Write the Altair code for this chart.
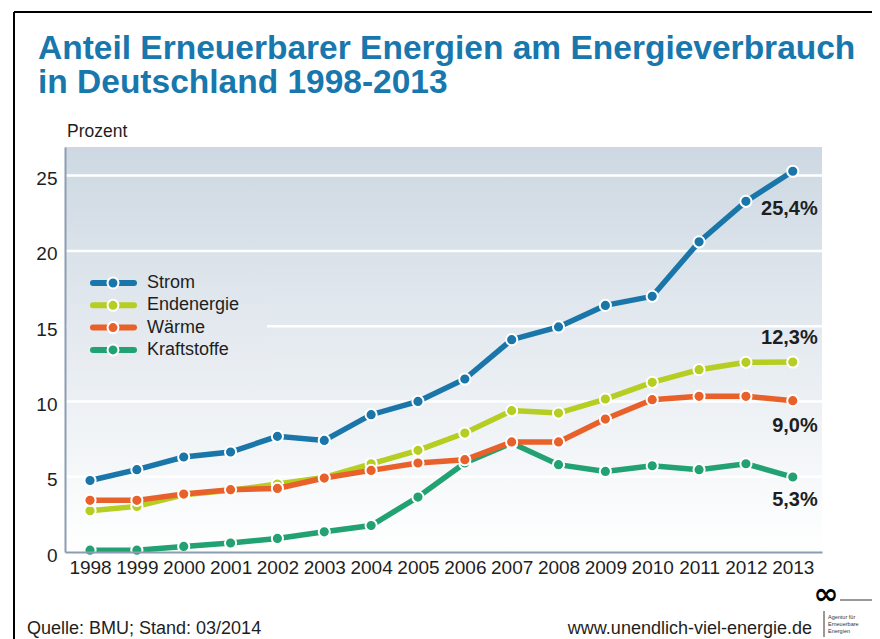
import altair as alt
import pandas as pd

# ---------------- data ----------------
years = list(range(1998, 2014))
series_names = ["Strom", "Endenergie", "Wärme", "Kraftstoffe"]
strom = [4.75, 5.47, 6.31, 6.64, 7.68, 7.41, 9.12, 10.0, 11.49, 14.1, 14.95, 16.38, 16.98, 20.6, 23.29, 25.29]
endenergie = [2.74, 3.03, 3.8, 4.1, 4.51, 4.95, 5.86, 6.75, 7.9, 9.39, 9.23, 10.16, 11.27, 12.11, 12.6, 12.62]
waerme = [3.43, 3.43, 3.85, 4.14, 4.22, 4.91, 5.42, 5.91, 6.13, 7.31, 7.31, 8.83, 10.12, 10.34, 10.34, 10.05]
kraftstoffe = [0.12, 0.12, 0.37, 0.6, 0.9, 1.34, 1.76, 3.65, 5.91, 7.24, 5.8, 5.35, 5.73, 5.47, 5.86, 4.98]
end_labels = ["25,4%", "12,3%", "9,0%", "5,3%"]
y_ticks = [0, 5, 10, 15, 20, 25]
title_lines = ["Anteil Erneuerbarer Energien am Energieverbrauch", "in Deutschland 1998-2013"]
unit_label = "Prozent"
source_text = "Quelle: BMU; Stand: 03/2014"
url_text = "www.unendlich-viel-energie.de"
logo_lines = ["Agentur für", "Erneuerbare", "Energien"]

values_by_series = {"Strom": strom, "Endenergie": endenergie, "Wärme": waerme, "Kraftstoffe": kraftstoffe}
rows = []
for name in series_names:
    for yr, v in zip(years, values_by_series[name]):
        rows.append({"series": name, "year": yr, "value": v})
df = pd.DataFrame(rows)
df_lab = pd.DataFrame({
    "series": series_names,
    "label": end_labels,
    "year": [years[-1]] * 4,
    "value": [values_by_series[n][-1] for n in series_names],
})

# ---------------- style ----------------
W, H = 757, 405
FONT = "Liberation Sans, Arial, sans-serif"
TXT = "#1e1e1e"
AX = "#8c9db1"
TITLE_C = "#1877ad"
colors = {"Strom": "#1a76a9", "Endenergie": "#b6cd22", "Wärme": "#e9612a", "Kraftstoffe": "#22a272"}
label_dy = {"Strom": 44, "Endenergie": -18, "Wärme": 31, "Kraftstoffe": 29}
draw_order = ["Kraftstoffe", "Endenergie", "Wärme", "Strom"]

top_c = (205, 216, 226)
bot_c = (255, 255, 255)


def lerp(t):
    return "#%02x%02x%02x" % tuple(round(a + (b - a) * t) for a, b in zip(top_c, bot_c))


def grad(t0, t1):
    return {"gradient": "linear", "x1": 0, "x2": 0, "y1": 0, "y2": 1,
            "stops": [{"offset": 0, "color": lerp(t0)}, {"offset": 1, "color": lerp(t1)}]}


xs = alt.Scale(domain=[1997.466, 2013.624], nice=False, zero=False)
ys = alt.Scale(domain=[0, 26.9], nice=False, zero=True)

x_axis = alt.Axis(values=years, format="d", title=None, ticks=False, grid=False,
                  labelFontSize=19, labelColor=TXT, labelFont=FONT, labelPadding=6,
                  labelFlush=False, labelOverlap=False, domainColor=AX, domainWidth=2, zindex=1)
y_axis = alt.Axis(values=y_ticks, title=None, ticks=False, grid=False,
                  labelFontSize=19, labelColor=TXT, labelFont=FONT, labelPadding=8,
                  labelOffset=3, domainColor=AX, domainWidth=2, zindex=1)

X = alt.X("year:Q", scale=xs, axis=x_axis)
Y = alt.Y("value:Q", scale=ys, axis=y_axis)

one = pd.DataFrame({"a": [0]})


def text_layer(txt, x, y, size, color=TXT, weight="normal", align="left", baseline="alphabetic", font=FONT):
    return alt.Chart(pd.DataFrame({"t": [txt]})).mark_text(
        align=align, baseline=baseline, fontSize=size, fontWeight=weight, color=color, font=font
    ).encode(x=alt.value(x), y=alt.value(y), text="t:N")


layers = []
# background
layers.append(alt.Chart(one).mark_rect(fill=grad(0, 1)).encode(
    x=alt.value(0), x2=alt.value(W), y=alt.value(0), y2=alt.value(H)))
# gridlines
layers.append(alt.Chart(pd.DataFrame({"value": y_ticks[1:]})).mark_rule(color="white", strokeWidth=2.5).encode(
    y=Y, x=alt.value(0), x2=alt.value(W)))
# legend box (covers gridline)
lb_top, lb_bot = 115, 223
layers.append(alt.Chart(one).mark_rect(fill=grad(lb_top / H, lb_bot / H)).encode(
    x=alt.value(2), x2=alt.value(202), y=alt.value(lb_top), y2=alt.value(lb_bot)))

# series
for name in draw_order:
    d = df[df.series == name]
    layers.append(alt.Chart(d).mark_line(color=colors[name], strokeWidth=5.5).encode(x=X, y=Y))
    layers.append(alt.Chart(d).mark_circle(color=colors[name], size=125, opacity=1,
                                           stroke="white", strokeWidth=2).encode(x=X, y=Y))

# end labels
for name in series_names:
    layers.append(alt.Chart(df_lab[df_lab.series == name]).mark_text(
        align="right", baseline="alphabetic", dx=25, dy=label_dy[name], fontSize=20,
        fontWeight="bold", color=TXT, font=FONT).encode(x=X, y=Y, text="label:N"))

# legend
for i, name in enumerate(series_names):
    yv = 136 + 22.3 * i
    layers.append(alt.Chart(one).mark_rule(color=colors[name], strokeWidth=6, strokeCap="round").encode(
        x=alt.value(28), x2=alt.value(69), y=alt.value(yv)))
    layers.append(alt.Chart(one).mark_circle(color=colors[name], size=120, opacity=1,
                                             stroke="white", strokeWidth=2).encode(
        x=alt.value(48), y=alt.value(yv)))
    layers.append(text_layer(name, 82, yv, 18, baseline="middle"))

# titles and texts
layers.append(text_layer(title_lines[0], -27, -88, 33.5, color=TITLE_C, weight="bold"))
layers.append(text_layer(title_lines[1], -27, -54, 33.5, color=TITLE_C, weight="bold"))
layers.append(text_layer(unit_label, 2, -10, 17.5))
layers.append(text_layer(source_text, -38, 487, 18))
layers.append(text_layer(url_text, 747, 487, 18, align="right"))

# frame
layers.append(alt.Chart(one).mark_rule(color="black", strokeWidth=2).encode(
    x=alt.value(-51), y=alt.value(-135), y2=alt.value(H + 87)))
layers.append(alt.Chart(one).mark_rule(color="black", strokeWidth=2).encode(
    x=alt.value(-51), x2=alt.value(807), y=alt.value(-135)))

# logo
layers.append(text_layer("∞", 761, 457, 30, color="black", weight="bold", align="center", font="DejaVu Sans"))
layers.append(alt.Chart(one).mark_rule(color="#333", strokeWidth=1).encode(
    x=alt.value(775), x2=alt.value(807), y=alt.value(453)))
layers.append(alt.Chart(one).mark_rule(color="#333", strokeWidth=1).encode(
    x=alt.value(759), y=alt.value(464), y2=alt.value(490)))
for j, t in enumerate(logo_lines):
    layers.append(text_layer(t, 763, 472 + 7 * j, 5.5, color="#333"))

chart = alt.layer(*layers).properties(
    width=W, height=H,
    padding={"left": 57, "top": 139, "right": 50, "bottom": 87},
    autosize=alt.AutoSizeParams(type="none"),
).configure_view(stroke=None)

chart.save("out.html", embed_options={"renderer": "svg", "actions": False})
